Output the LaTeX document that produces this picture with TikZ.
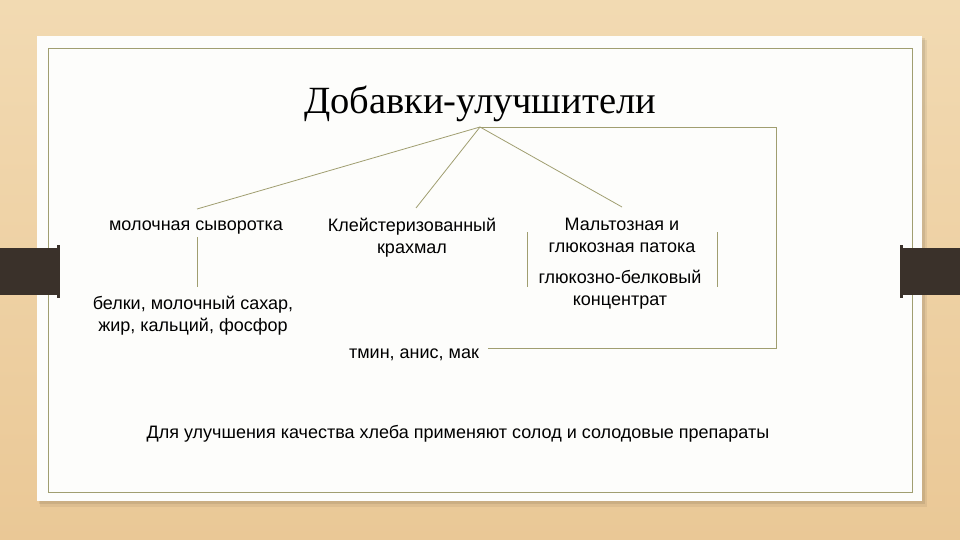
\documentclass[tikz,border=0pt]{standalone}
\usepackage{fontspec}
\setmainfont{Liberation Sans}
\newfontfamily\titlefont{Liberation Serif}
\usetikzlibrary{positioning}

\definecolor{wood}{RGB}{234,200,150}
\definecolor{woodlight}{RGB}{242,218,178}
\definecolor{tabbrown}{RGB}{58,49,42}
\definecolor{olive}{RGB}{160,158,112}
\definecolor{card}{RGB}{253,253,251}

\tikzset{
  lbl/.style={draw=none, inner sep=0pt, align=center, font=\fontsize{18}{22}\selectfont},
  ttl/.style={draw=none, inner sep=0pt, font=\titlefont\fontsize{38.5}{40}\selectfont},
  link/.style={draw=olive, line width=0.8pt},
}

\begin{document}
\begin{tikzpicture}[x=1pt, y=-1pt]

    \useasboundingbox (0,0) rectangle (960,540);
    \shade[top color=woodlight, bottom color=wood] (0,0) rectangle (960,540);
    \fill[black, opacity=0.06] (40,40) rectangle (927,507);
    \fill[black, opacity=0.08] (39,38) rectangle (925,504);
    \fill[card] (37,36) rectangle (922,501);
    \draw[olive, line width=0.9pt] (48,48) rectangle (912,492);

    \fill[tabbrown] (0,248) rectangle (59,295);
    \fill[tabbrown] (57,245) rectangle (60,298);
    \fill[tabbrown] (901,248) rectangle (960,295);
    \fill[tabbrown] (900,245) rectangle (903,298);


    \node[ttl] (T) at (480,104) {Добавки-улучшители};
\coordinate (A) at (480,127);


    \node[lbl] (N0) at (196,228) {молочная сыворотка};
\draw[link] (A) -- ([xshift=1pt, yshift=19pt]N0.center);


    \node[lbl] (N1) at (412,238) {Клейстеризованный\\крахмал};
\draw[link] (A) -- ([xshift=4pt, yshift=30pt]N1.center);


    \node[lbl] (N2) at (622,235) {Мальтозная и\\глюкозная патока};
\draw[link] (A) -- ([yshift=28pt]N2.center);


    \node[lbl] (N3) at (620,290) {глюкозно-белковый\\концентрат};
\coordinate (B0) at (527,232);
\coordinate (B1) at (527,287);
\coordinate (B2) at (717,232);
\coordinate (B3) at (717,287);
\draw[link] (B0) -- (B1);
\draw[link] (B2) -- (B3);


    \node[lbl] (N4) at (193,316) {белки, молочный сахар,\\жир, кальций, фосфор};
\draw[link] ([xshift=1pt, yshift=-9pt]N0.center) -- ([xshift=4pt, yshift=29pt]N4.center);


    \node[lbl] (N5) at (414,355) {тмин, анис, мак};
\draw[link] (A) -- ++(296,0) |- ([xshift=9pt, yshift=7pt]N5.east);


    \node[lbl] (N6) at (458,434) {Для улучшения качества хлеба применяют солод и солодовые препараты};

\end{tikzpicture}
\end{document}
